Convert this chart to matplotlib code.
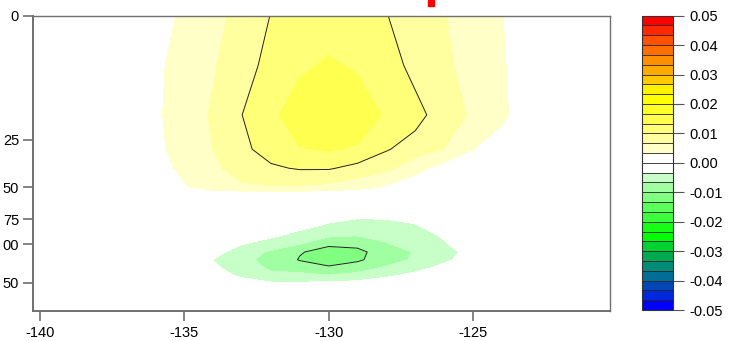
import numpy as np
import matplotlib
matplotlib.use("Agg")
import matplotlib.pyplot as plt
from matplotlib.patches import Rectangle

plt.rcParams['font.family'] = ['Liberation Sans', 'DejaVu Sans']
plt.rcParams['axes.unicode_minus'] = False

# axis ticks / labels (y labels are cut off at the left edge in the original)
lon_ticks = [-140, -135, -130, -125]
depth_ticks = [0, 25, 50, 75, 100, 150]
depth_tick_labels = ["0", "25", "50", "75", "00", "50"]

# stretched depth axis: depth -> position along the axis (top = 0)
depth_axis = [0, 25, 50, 75, 100, 150, 200]
depth_axis_pos = [0, 124, 171.6, 203.6, 228.6, 267.3, 295]

# shading levels and colours
levels = np.linspace(-0.05, 0.05, 31)
cbar_ticks = [-0.05, -0.04, -0.03, -0.02, -0.01, 0.0, 0.01, 0.02, 0.03, 0.04, 0.05]
colors = [
    '#0000FF', '#0028DC', '#0046B4', '#006E96', '#008C78', '#00AA50', '#00D232',
    '#00FF00', '#14FF14', '#3CFF3C', '#5AFF5A', '#80FF80', '#A0FFA0', '#C8FFC8',
    '#FFFFFF', '#FFFFFF',
    '#FFFFC8', '#FFFFA0', '#FFFF78', '#FFFF50', '#FFFF28', '#FFFF00', '#FFF000',
    '#FFC800', '#FFAA00', '#FF9100', '#FF6E00', '#FF5000', '#FF2800', '#FF0000',
]

# positive anomaly near the surface
yellow_lon = list(range(-137, -121))
yellow_depth = [0, 10, 20, 30, 40, 50, 55]
yellow_vals = [
    [0, 0.0018, 0.0040, 0.0057, 0.0077, 0.0101, 0.0113, 0.0118, 0.0113, 0.0101, 0.0085, 0.0068, 0.0052, 0.0034, 0.0015, 0],
    [0.0005, 0.0025, 0.0050, 0.0064, 0.0085, 0.0112, 0.0128, 0.0137, 0.0130, 0.0112, 0.0092, 0.0072, 0.0056, 0.0036, 0.0018, 0],
    [0.0008, 0.0027, 0.0053, 0.0070, 0.0100, 0.0127, 0.0149, 0.0155, 0.0148, 0.0130, 0.0108, 0.0088, 0.0060, 0.0038, 0.0018, 0.0005],
    [0.0005, 0.0024, 0.0050, 0.0067, 0.0092, 0.0115, 0.0131, 0.0137, 0.0128, 0.0103, 0.0083, 0.0066, 0.0034, 0.0015, 0.0005, 0],
    [0.0003, 0.0020, 0.0041, 0.0060, 0.0080, 0.0095, 0.0103, 0.0103, 0.0090, 0.0074, 0.0045, 0.0018, 0.0008, 0, 0, 0],
    [0, 0.0008, 0.0030, 0.0050, 0.0062, 0.0064, 0.0062, 0.0058, 0.0045, 0.0028, 0.0012, 0.0004, 0, 0, 0, 0],
    [0, 0, 0.0005, 0.0012, 0.0015, 0.0016, 0.0015, 0.0012, 0.0008, 0.0004, 0, 0, 0, 0, 0, 0],
]

# negative anomaly at depth
green_lon = list(range(-136, -122))
green_depth = [70, 80, 90, 100, 110, 120, 130, 140, 150]
green_vals = [
    [0, 0, 0, 0, 0, -0.0008, -0.0018, -0.0026, -0.0024, -0.0020, -0.0008, 0, 0, 0],
    [0, 0, 0, 0, -0.0008, -0.0020, -0.0036, -0.0042, -0.0043, -0.0034, -0.0018, -0.0005, 0, 0],
    [0, 0, 0, -0.0008, -0.0025, -0.0042, -0.0056, -0.0062, -0.0055, -0.0042, -0.0030, -0.0012, 0, 0],
    [0, 0, -0.0012, -0.0033, -0.0048, -0.0067, -0.0096, -0.0094, -0.0070, -0.0050, -0.0036, -0.0018, -0.0004, 0],
    [0, -0.0008, -0.0022, -0.0050, -0.0072, -0.0098, -0.0110, -0.0106, -0.0088, -0.0064, -0.0042, -0.0025, -0.0008, 0],
    [0, -0.0010, -0.0034, -0.0058, -0.0078, -0.0102, -0.0112, -0.0104, -0.0086, -0.0060, -0.0040, -0.0018, -0.0003, 0],
    [0, -0.0008, -0.0030, -0.0045, -0.0074, -0.0084, -0.0097, -0.0088, -0.0062, -0.0045, -0.0025, -0.0005, 0, 0],
    [0, 0, -0.0018, -0.0040, -0.0058, -0.0058, -0.0066, -0.0055, -0.0040, -0.0025, -0.0008, 0, 0, 0],
    [0, 0, -0.0008, -0.0020, -0.0030, -0.0030, -0.0028, -0.0024, -0.0015, -0.0005, 0, 0, 0, 0],
]

# full grid (zero elsewhere)
lon = np.arange(-141, -118)
depth = np.array(sorted(set(yellow_depth + green_depth + [60, 160, 200])))
field = np.zeros((len(depth), len(lon)))
for block_depth, block_lon, block in [(yellow_depth, yellow_lon, yellow_vals),
                                      (green_depth, green_lon, green_vals)]:
    rows = np.searchsorted(depth, block_depth)
    cols = np.searchsorted(lon, block_lon)
    field[np.ix_(rows, cols)] = np.array(block)


def depth_to_pos(d):
    return np.interp(d, depth_axis, depth_axis_pos)


def pos_to_depth(p):
    return np.interp(p, depth_axis_pos, depth_axis)


fig = plt.figure(figsize=(7.35, 3.41), dpi=100)
ax = fig.add_axes([0.0449, 0.0889, 0.7850, 0.8651])
cax = fig.add_axes([0.8731, 0.0909, 0.0422, 0.8631])

ax.set_yscale('function', functions=(depth_to_pos, pos_to_depth))

cf = ax.contourf(lon, depth, field, levels=levels, colors=colors)
ax.contour(lon, depth, field, levels=[-0.01, 0.01], colors='#222222',
           linewidths=0.7, linestyles='solid')

ax.set_xlim(-140.25, -120.25)
ax.set_ylim(200, 0)
ax.set_xticks(lon_ticks)
ax.set_xticklabels([str(t) for t in lon_ticks])
ax.set_yticks(depth_ticks)
ax.set_yticklabels(depth_tick_labels)
ax.minorticks_off()
ax.tick_params(direction='out', length=7, width=1.2, color='#707070',
               labelsize=10.5, pad=3)
ax.tick_params(axis='x', pad=4)
for side, sp in ax.spines.items():
    sp.set_color('#707070')
    sp.set_linewidth(1.0 if side in ('top', 'right') else 1.4)

cb = fig.colorbar(cf, cax=cax, ticks=cbar_ticks, drawedges=True)
cb.outline.set_edgecolor('#333333')
cb.outline.set_linewidth(0.8)
cb.dividers.set_color('#222222')
cb.dividers.set_linewidth(0.6)
cb.ax.set_yticklabels([f"{t:.2f}" for t in cbar_ticks])
cb.ax.tick_params(direction='out', length=8, width=0.8, color='#555555',
                  labelsize=10.5, pad=4)

# bit of a red title cut by the top edge
fig.patches.append(Rectangle((0.5827, 0.9815), 0.0078, 0.0185,
                             transform=fig.transFigure, color='red'))

fig.savefig("out.png", dpi=100)
